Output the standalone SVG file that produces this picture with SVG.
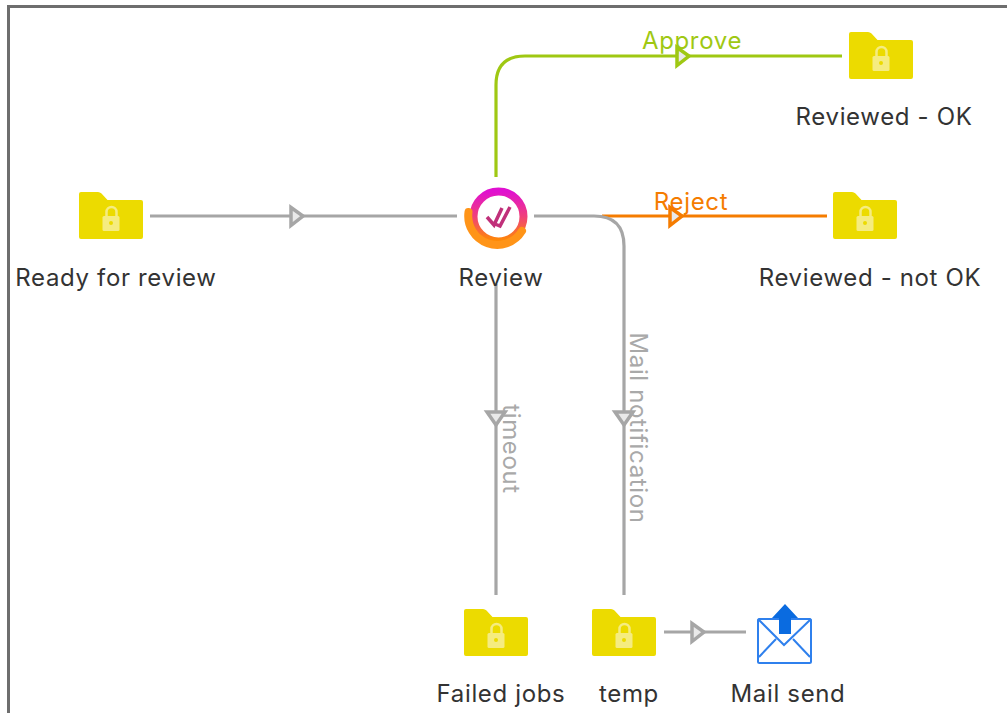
<svg xmlns="http://www.w3.org/2000/svg" width="1007" height="713" viewBox="0 0 1007 713">
<style>
text{font-family:"Inter","Liberation Sans",sans-serif;font-size:24px;letter-spacing:.65px;fill:#333;text-anchor:middle}
.c{fill:none;stroke-width:3.200}
.g{stroke:#a6a6a6}.gt{fill:#a9a9a9}
.ah{fill:#e9e9e9;stroke-width:3.500}
.f{fill:#ecdb00}
</style>
<defs>
<linearGradient id="rg" x1="0" y1="0" x2="0" y2="1"><stop offset="0" stop-color="#e010d0"/><stop offset=".5" stop-color="#f0407a"/><stop offset="1" stop-color="#ff8c00"/></linearGradient>
<g id="folder">
<path class="f" d="M0 2q0-2 2-2h17q2 0 3.500 1.500l6 6.500h33.500q2 0 2 2v35q0 2-2 2H2q-2 0-2-2z"/>
<path d="M27.500 25v-5a5 5 0 0 1 10 0v5" fill="none" stroke="#f5ec80" stroke-width="2.500"/>
<rect x="23.500" y="24" width="17" height="15" rx="1.500" fill="#f5ec80"/>
<circle cx="32" cy="31" r="2" fill="#ecdb00"/>
</g>
</defs>
<rect x="8.500" y="6.500" width="1000" height="710" fill="#fff" stroke="#6e6e6e" stroke-width="3"/>
<g id="connectors">
<path class="c g" d="M150 216H457"/>
<path class="ah" stroke="#a6a6a6" d="M291 207.500L303 216L291 225.500z"/>
<path class="c" stroke="#9fc813" d="M496 177V85Q496 56 525 56H842"/>
<path class="ah" stroke="#9fc813" d="M677 47.500L689 56L677 65.500z"/>
<path class="c" stroke="#f57c00" d="M602 216H827"/>
<path class="ah" stroke="#f57c00" d="M670 207.500L682 216L670 225.500z"/>
<path class="c g" d="M534 216H594Q624 216 624 246V595"/>
<path class="ah" stroke="#a6a6a6" d="M615 412H633L624 425z"/>
<path class="c g" d="M496 284V595"/>
<path class="ah" stroke="#a6a6a6" d="M487 412H505L496 425z"/>
<path class="c g" d="M664 632H746"/>
<path class="ah" stroke="#a6a6a6" d="M692 623.500L704 632L692 641.500z"/>
<text x="692" y="49" style="fill:#9fc813">Approve</text>
<text x="691" y="210" style="fill:#f57c00">Reject</text>
<text transform="translate(503 449) rotate(90)" class="gt">timeout</text>
<text transform="translate(630 428) rotate(90)" class="gt">Mail notification</text>
</g>
<g id="ready"><use href="#folder" x="79" y="192"/><text x="116" y="286">Ready for review</text></g>
<g id="review">
<circle cx="498.500" cy="216.500" r="25" fill="none" stroke="url(#rg)" stroke-width="8"/>
<path d="M468.500 212A29 29 0 0 0 522 231" fill="none" stroke="#ff9418" stroke-width="8" stroke-linecap="round"/>
<path d="M487 217L494 225L502 208M495 224L500 226L510 207" fill="none" stroke="#c0307a" stroke-width="3.500"/>
<text x="501" y="286">Review</text>
</g>
<g id="ok"><use href="#folder" x="849" y="32"/><text x="884" y="125">Reviewed - OK</text></g>
<g id="notok"><use href="#folder" x="833" y="192"/><text x="870" y="286">Reviewed - not OK</text></g>
<g id="failed"><use href="#folder" x="464" y="609"/><text x="501" y="702">Failed jobs</text></g>
<g id="temp"><use href="#folder" x="592" y="609"/><text x="629" y="702">temp</text></g>
<g id="mail">
<rect x="758" y="619" width="53" height="44" rx="1.500" fill="#fff" stroke="#2f80ed" stroke-width="2"/>
<path d="M758 619L784 645L811 619M759 657L776 639M810 657L793 639" fill="none" stroke="#2f80ed" stroke-width="2"/>
<path d="M785 604L772 618H779V634H791V618H798z" fill="#0a6be0"/>
<text x="788" y="702">Mail send</text>
</g>
</svg>
